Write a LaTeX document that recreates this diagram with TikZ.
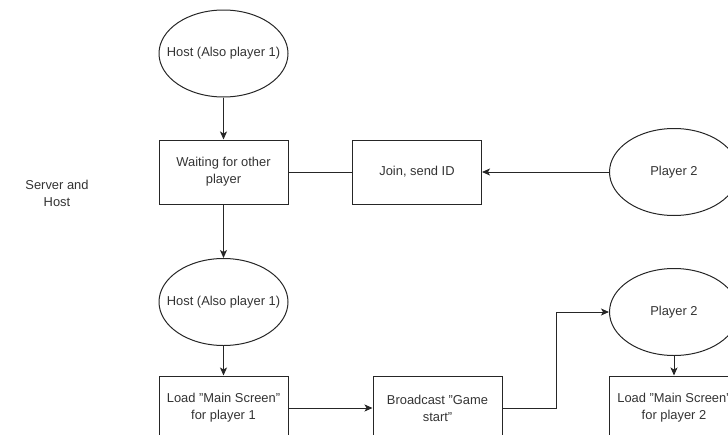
\documentclass[tikz,border=0pt]{standalone}
\usepackage{fontspec}
\setmainfont{Liberation Sans}
\usetikzlibrary{shapes.geometric,arrows.meta}
\definecolor{txt}{HTML}{333333}
\begin{document}
\begin{tikzpicture}[x=1pt,y=-1pt,
  every node/.style={font=\fontsize{12.9}{17}\selectfont, text=txt},
  procbox/.style={draw=black!85, line width=1pt, minimum width=129pt, minimum height=64pt, inner sep=0pt, align=center},
  oval/.style={draw=black!85, ellipse, line width=1pt, minimum width=129pt, minimum height=87pt, inner sep=0pt,
    label={[text=txt]center:#1}},
  conn/.style={draw=black!85, line width=1pt},
  arr/.style={conn, -{Stealth[length=8pt,width=7pt,inset=2pt]}}]
\useasboundingbox (0,0) rectangle (728,434);
\clip (0,0) rectangle (728,434);
\node[oval={Host (Also player 1)}] (host1) at (223.5,53.5) {};
\node[procbox] (wait) at (223.5,172) {Waiting for other\\player};
\node[procbox] (join) at (417,172) {Join, send ID};
\node[oval={Player 2}] (p2a) at (674,172) {};
\node[oval={Host (Also player 1)}] (host2) at (223.5,302) {};
\node[procbox] (load1) at (223.5,408) {Load "Main Screen"\\for player 1};
\node[procbox] (bcast) at (437.5,408) {Broadcast "Game\\start"};
\node[oval={Player 2}] (p2b) at (674,312) {};
\node[procbox] (load2) at (674,408) {Load "Main Screen"\\for player 2};
\node[align=center] (srv) at (57,193) {Server and\\Host};
\coordinate (bend) at (556,408);
\draw[arr] (host1) -- (wait);
\draw[conn] (wait) -- (join);
\draw[arr] (p2a) -- (join);
\draw[arr] (wait) -- (host2);
\draw[arr] (host2) -- (load1);
\draw[arr] (load1) -- (bcast);
\draw[arr] (bcast.east) -- (bend) |- (p2b.west);
\draw[arr] (p2b) -- (load2);
\end{tikzpicture}
\end{document}
